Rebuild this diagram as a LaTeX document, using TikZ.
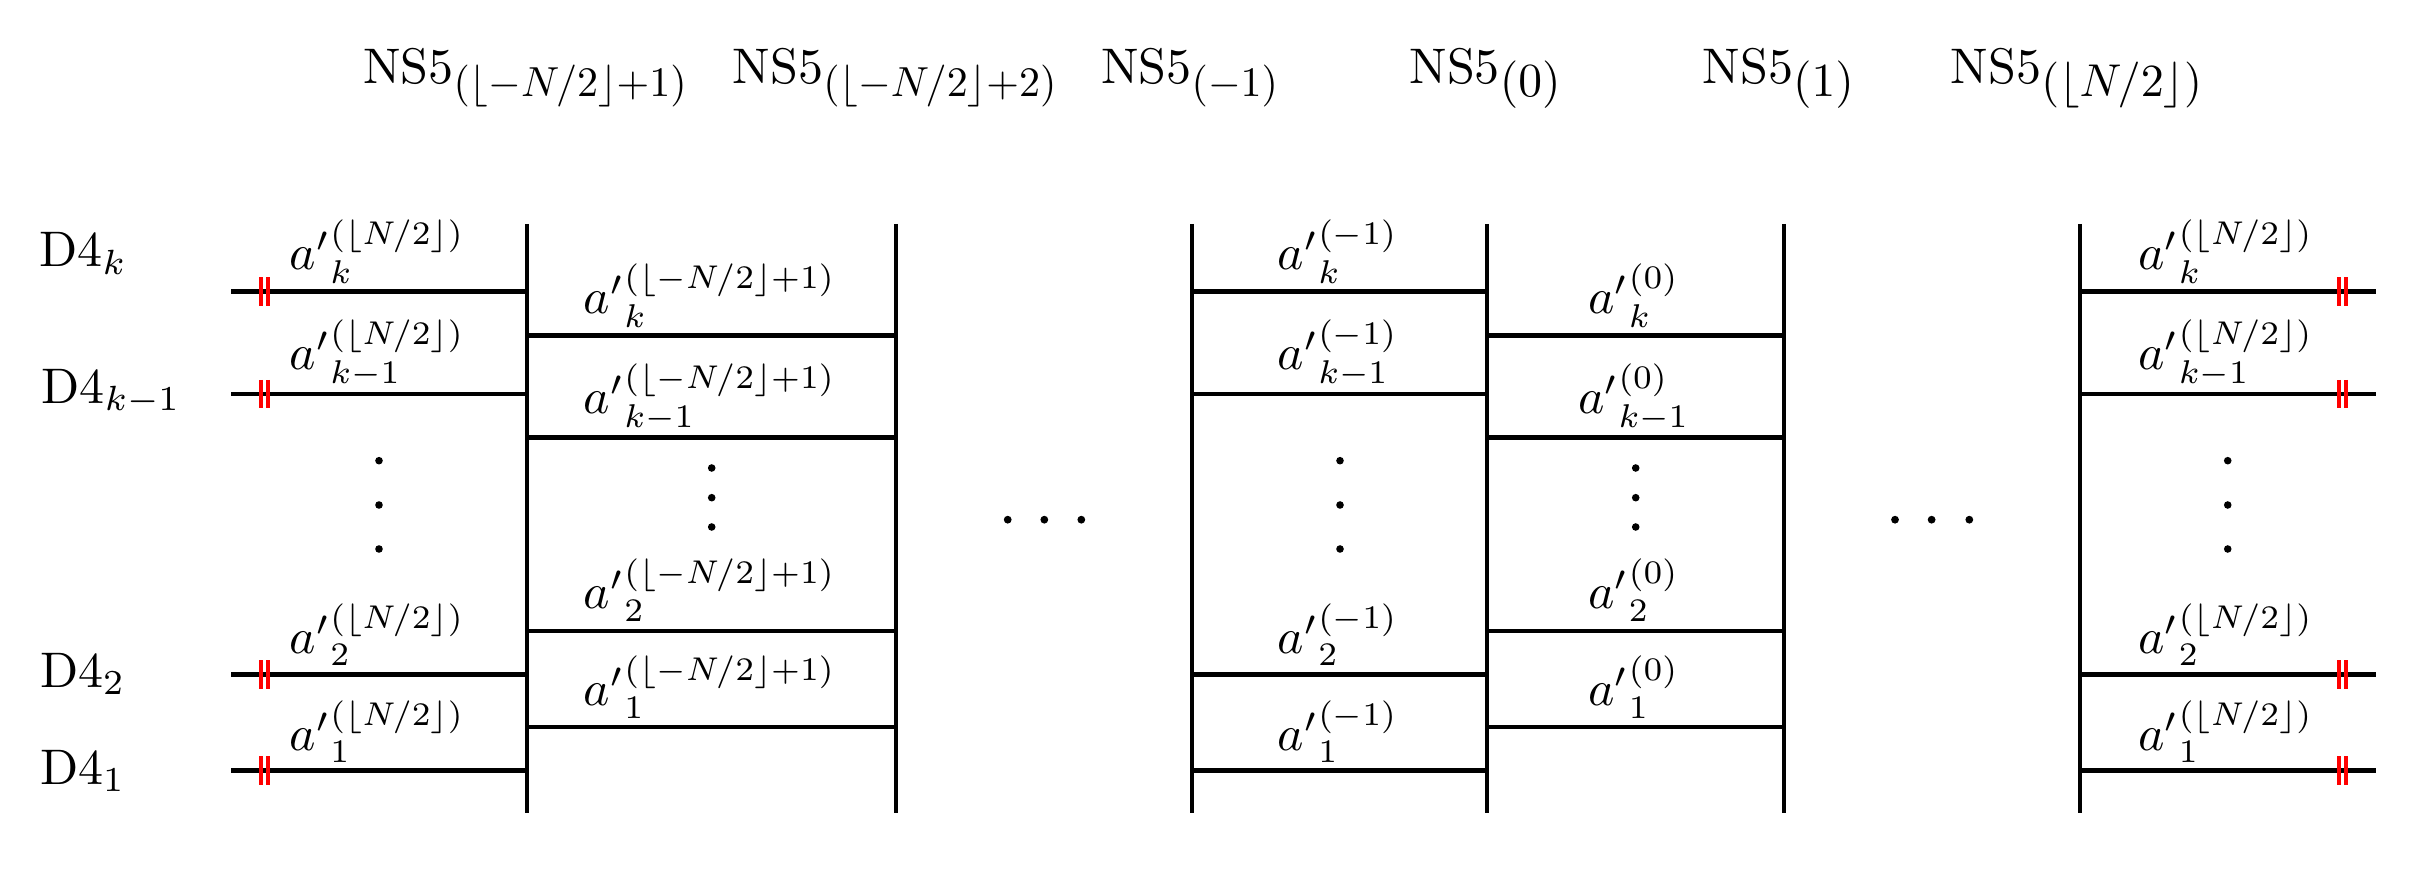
\documentclass[tikz,border=0pt]{standalone}
\usepackage{amsmath}
\usepackage{graphicx}
\newcommand{\nsfivelab}[2]{NS5\raisebox{-2.6pt}{\scalebox{#1}{$#2$}}}
\newcommand{\ssc}[1]{\scalebox{0.94}{$\scriptstyle #1$}}
\begin{document}
\begin{tikzpicture}[x=0.2pt,y=-0.2pt,
  brane/.style={line width=0.94pt},
  cutmark/.style={red,line width=0.74pt},
  lab/.style={anchor=base,inner sep=0pt,font=\fontsize{10}{12}\selectfont},
  dlab/.style={anchor=base west,inner sep=0pt,font=\fontsize{10}{12}\selectfont},
  dotc/.style={fill=black,draw=none}]
\useasboundingbox (0,0) rectangle (2435,889);

% NS5 branes
\foreach \i/\x in {1/527,2/896,3/1192,4/1487,5/1784,6/2080}{
  \coordinate (nsT\i) at (\x,224);
  \coordinate (nsB\i) at (\x,813);
  \draw[brane] (nsT\i) -- (nsB\i);
}

% NS5 labels
\node[lab] (t1) at (525,83.3) {\nsfivelab{0.84}{(\lfloor -N/2\rfloor{+}1)}};
\node[lab] (t2) at (894.7,83.3) {\nsfivelab{0.84}{(\lfloor -N/2\rfloor{+}2)}};
\node[lab] (t3) at (1189.7,83.3) {\nsfivelab{0.84}{(-1)}};
\node[lab] (t4) at (1485,83.3) {\nsfivelab{0.95}{(0)}};
\node[lab] (t5) at (1778.3,83.3) {\nsfivelab{0.95}{(1)}};
\node[lab] (t6) at (2076.5,83.3) {\nsfivelab{0.92}{(\lfloor N/2\rfloor)}};

% D4 rows of type A (columns 0, 2, 4)
\foreach \r/\y in {1/770.5,2/674.5,3/394,4/291.5}{
  \coordinate (L\r) at (231,\y);
  \coordinate (R\r) at (2376,\y);
  \draw[brane] (L\r) -- (nsT1 |- L\r);
  \draw[brane] (nsT3 |- L\r) -- (nsT4 |- L\r);
  \draw[brane] (nsT6 |- R\r) -- (R\r);
  \draw[cutmark] ([shift={(30,-14.2)}]L\r) -- ++(0,28.4);
  \draw[cutmark] ([shift={(37,-14.2)}]L\r) -- ++(0,28.4);
  \draw[cutmark] ([shift={(-37,-14.2)}]R\r) -- ++(0,28.4);
  \draw[cutmark] ([shift={(-30,-14.2)}]R\r) -- ++(0,28.4);
}
% D4 rows of type B (columns 1, 3)
\foreach \r/\y in {1/727,2/631,3/437.6,4/335.7}{
  \coordinate (B\r) at (527,\y);
  \draw[brane] (nsT1 |- B\r) -- (nsT2 |- B\r);
  \draw[brane] (nsT4 |- B\r) -- (nsT5 |- B\r);
}

% D4 labels
\node[dlab] (d4k) at (38.3,266.7) {D4$_k$};
\node[dlab] (d4km) at (40.7,403.3) {D4$_{k-1}$};
\node[dlab] (d42) at (39,687.2) {D4$_2$};
\node[dlab] (d41) at (39,784) {D4$_1$};

% segment labels
\foreach \c/\x/\s in {0/377.5/{(\lfloor N/2\rfloor)},2/1338/{(-1)},4/2226/{(\lfloor N/2\rfloor)}}{
  \node[lab] (a\c k) at (\x,269.5) {${a'}^{\ssc{\s}}_{\ssc{k}}$};
  \node[lab] (a\c km) at (\x,369.5) {${a'}^{\ssc{\s}}_{\ssc{k-1}}$};
  \node[lab] (a\c two) at (\x,653.5) {${a'}^{\ssc{\s}}_{\ssc{2}}$};
  \node[lab] (a\c one) at (\x,750.3) {${a'}^{\ssc{\s}}_{\ssc{1}}$};
}
\foreach \c/\x/\s in {1/710/{(\lfloor -N/2\rfloor+1)},3/1634/{(0)}}{
  \node[lab] (a\c k) at (\x,314) {${a'}^{\ssc{\s}}_{\ssc{k}}$};
  \node[lab] (a\c km) at (\x,413.6) {${a'}^{\ssc{\s}}_{\ssc{k-1}}$};
  \node[lab] (a\c two) at (\x,609) {${a'}^{\ssc{\s}}_{\ssc{2}}$};
  \node[lab] (a\c one) at (\x,706) {${a'}^{\ssc{\s}}_{\ssc{1}}$};
}

% vertical dots
\foreach \x in {379,1340,2227.7}{
  \foreach \y in {460.7,505,549}{
    \fill[dotc] (\x,\y) circle[radius=0.76pt];
  }
}
\foreach \x in {711.7,1635.7}{
  \foreach \y in {468,497.7,527}{
    \fill[dotc] (\x,\y) circle[radius=0.76pt];
  }
}
% horizontal dots
\foreach \x in {1007.7,1044.3,1081.3,1895,1931.6,1969.3}{
  \fill[dotc] (\x,519.7) circle[radius=0.78pt];
}
\end{tikzpicture}
\end{document}
